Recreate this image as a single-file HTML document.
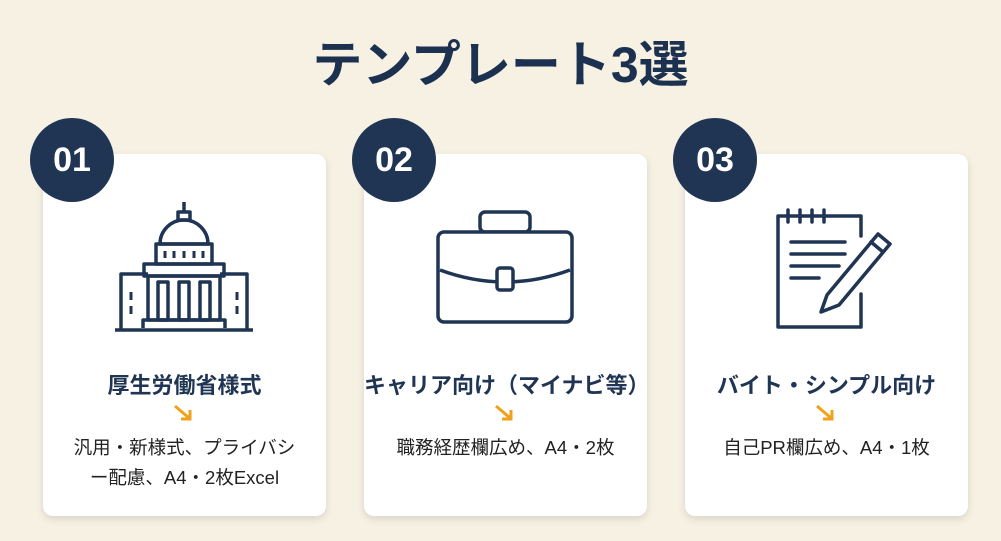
<!DOCTYPE html>
<html><head><meta charset="utf-8"><style>
html,body{margin:0;padding:0}
body{width:1001px;height:541px;background:#f6f1e3;position:relative;overflow:hidden;font-family:"Liberation Sans","Noto Sans CJK JP",sans-serif;color:#1f3553}
.title{position:absolute;left:0;width:1001px;top:30px;text-align:center;font-size:50px;font-weight:bold;line-height:70px;color:#1c314f}
.card{position:absolute;top:154px;width:283px;height:362px;background:#fff;border-radius:10px;box-shadow:0 3px 8px rgba(0,0,0,0.12)}
.num{position:absolute;width:84px;height:84px;border-radius:50%;background:#1f3553;color:#fff;font-size:34px;font-weight:bold;text-align:center;line-height:84px;top:118px}
.h{position:absolute;left:0;width:283px;top:214px;text-align:center;font-size:22px;font-weight:bold;color:#1f3553;white-space:nowrap}
.arr{position:absolute;left:130px;top:250px}
.d{position:absolute;left:0;width:283px;top:279px;text-align:center;font-size:18.5px;line-height:30px;color:#222;white-space:nowrap}
svg.ic{position:absolute;left:0;top:0}
</style></head><body>
<div class="title">テンプレート3選</div>

<div class="card" style="left:43px">
<svg class="ic" width="283" height="200" viewBox="0 0 283 200" fill="none" stroke="#1f3553" stroke-width="3.5" stroke-linejoin="round">
<path d="M141 48 v10 M135 58 h12 v8 h-12z"/>
<path d="M117 90 a24 24 0 0 1 48 0z"/>
<rect x="113" y="90" width="56" height="20"/>
<g stroke-width="3"><line x1="122" y1="97" x2="122" y2="104"/><line x1="131" y1="97" x2="131" y2="104"/><line x1="141" y1="97" x2="141" y2="104"/><line x1="151" y1="97" x2="151" y2="104"/><line x1="160" y1="97" x2="160" y2="104"/></g>
<rect x="101" y="110" width="80" height="12"/>
<rect x="105" y="122" width="72" height="44"/>
<rect x="115" y="128" width="10" height="38"/><rect x="136" y="128" width="10" height="38"/><rect x="157" y="128" width="10" height="38"/>
<path d="M105 120 H78 V176 M177 120 H204 V176"/>
<path d="M88 138 v8 M88 152 v8 M194 138 v8 M194 152 v8" stroke-width="3"/>
<path d="M100 174 v-8 h82 v8"/>
<line x1="72" y1="176" x2="210" y2="176"/>
</svg>
<div class="h">厚生労働省様式</div>
<svg class="arr" width="22" height="18" viewBox="0 0 22 18"><path d="M2 2 L16 14 M8 15 h9 v-9" stroke="#f0a21c" stroke-width="3" fill="none"/></svg>
<div class="d">汎用・新様式、プライバシ<br>ー配慮、A4・2枚Excel</div>
</div>

<div class="card" style="left:364px">
<svg class="ic" width="283" height="200" viewBox="0 0 283 200" fill="none" stroke="#1f3553" stroke-width="3.5" stroke-linejoin="round">
<rect x="116" y="58" width="50" height="20" rx="5"/>
<rect x="74" y="78" width="134" height="90" rx="6" fill="#fff"/>
<path d="M76 116 Q141 140 206 116"/>
<rect x="133" y="114" width="16" height="22" rx="3" fill="#fff"/>
</svg>
<div class="h">キャリア向け（マイナビ等）</div>
<svg class="arr" width="22" height="18" viewBox="0 0 22 18"><path d="M2 2 L16 14 M8 15 h9 v-9" stroke="#f0a21c" stroke-width="3" fill="none"/></svg>
<div class="d">職務経歴欄広め、A4・2枚</div>
</div>

<div class="card" style="left:685px">
<svg class="ic" width="283" height="200" viewBox="0 0 283 200" fill="none" stroke="#1f3553" stroke-width="3.5" stroke-linejoin="round" stroke-linecap="round">
<path d="M176 140 V173 H93 V62 H176 V82"/>
<line x1="103" y1="56" x2="103" y2="68"/><line x1="115" y1="56" x2="115" y2="68"/><line x1="127" y1="56" x2="127" y2="68"/><line x1="139" y1="56" x2="139" y2="68"/>
<line x1="106" y1="88" x2="160" y2="88"/><line x1="106" y1="100" x2="160" y2="100"/><line x1="106" y1="112" x2="154" y2="112"/><line x1="106" y1="124" x2="134" y2="124"/>
<path d="M142 141 L193 80 L205 90 L154 151 L136 158 Z" fill="#fff"/>
<line x1="186" y1="88" x2="198" y2="98"/>
</svg>
<div class="h">バイト・シンプル向け</div>
<svg class="arr" width="22" height="18" viewBox="0 0 22 18"><path d="M2 2 L16 14 M8 15 h9 v-9" stroke="#f0a21c" stroke-width="3" fill="none"/></svg>
<div class="d">自己PR欄広め、A4・1枚</div>
</div>

<div class="num" style="left:30px">01</div>
<div class="num" style="left:352px">02</div>
<div class="num" style="left:673px">03</div>
</body></html>
